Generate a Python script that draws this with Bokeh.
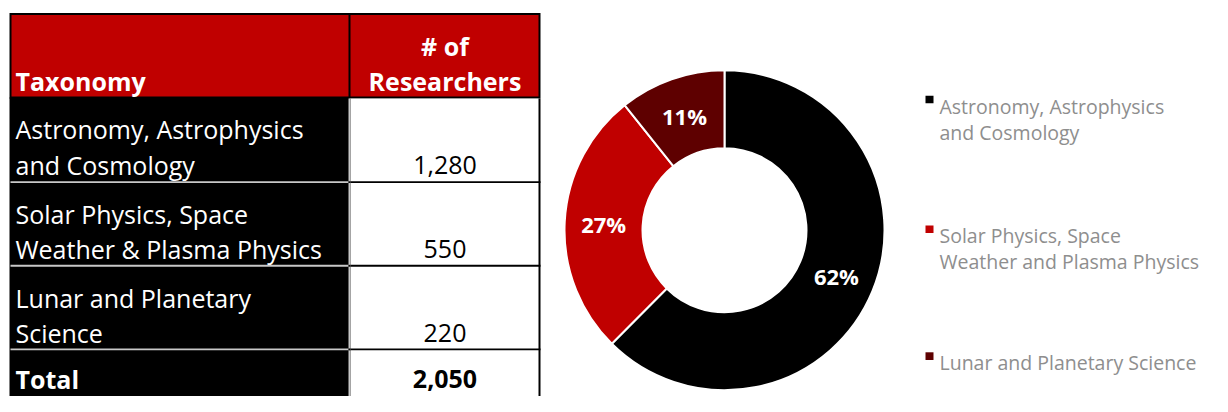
import numpy as np
from bokeh.plotting import figure
from bokeh.models import Range1d
from bokeh.core.properties import value
from bokeh.embed import file_html
from bokeh.resources import INLINE

# ---- data ----
header_left = "Taxonomy"
header_right = ["# of", "Researchers"]
taxonomy_lines = [
    ["Astronomy, Astrophysics", "and Cosmology"],
    ["Solar Physics, Space", "Weather & Plasma Physics"],
    ["Lunar and Planetary", "Science"],
]
researchers = [1280, 550, 220]
total_label = "Total"
legend_lines = [
    ["Astronomy, Astrophysics", "and Cosmology"],
    ["Solar Physics, Space", "Weather and Plasma Physics"],
    ["Lunar and Planetary Science"],
]
colors = ["#000000", "#C00000", "#5E0000"]

FONT = "Open Sans"
W, H = 1212, 396
REF_H = 412
ky = H / REF_H  # screen px per data unit vertically

p = figure(width=W, height=H, x_range=Range1d(0, W), y_range=Range1d(0, REF_H),
           output_backend="svg", toolbar_location=None, min_border=0)
p.axis.visible = False
p.grid.visible = False
p.outline_line_color = None
p.background_fill_color = "white"
p.border_fill_color = "white"


def Y(sy):
    return REF_H - sy


def box(l, r, t, b, color):
    p.quad(left=[l], right=[r], top=[Y(t)], bottom=[Y(b)], fill_color=color, line_color=None)


# ---- table ----
L, MID, R = 9, 349, 540
TOP, HB = 13, 101
row_tops = [101, 189, 276, 363]
BOTTOM = 412

# header
box(L, R, TOP, HB + 1, "#000000")
box(L + 2, MID - 1, TOP + 2, HB - 1, "#C00000")
box(MID + 1, R - 2, TOP + 2, HB - 1, "#C00000")
# body left (black)
box(L, MID, HB, BOTTOM, "#000000")
# body right: white with black borders
box(MID, R, HB + 1, BOTTOM, "#000000")
box(MID + 1, R - 2, HB + 1, BOTTOM, "#FFFFFF")
for rt in row_tops[1:]:
    box(MID, R, rt - 1, rt + 1, "#000000")
    box(L + 1, MID - 1, rt - 1, rt + 1, "#C8C8C8")
box(MID - 1, MID + 1, HB + 1, BOTTOM, "#C8C8C8")
for rt in row_tops[1:]:
    box(MID - 1, MID + 1, rt - 1, rt + 1, "#000000")

tx = 15
vx = (MID + R) / 2
FS = "25px"
p.text(x=[tx], y=[Y(84)], text=[header_left], text_font=value(FONT), text_font_style="bold",
       text_font_size=FS, text_color="white", text_baseline="alphabetic", text_align="left")
p.text(x=[vx, vx], y=[Y(47), Y(84)], text=header_right, text_font=value(FONT), text_font_style="bold",
       text_font_size=FS, text_color="white", text_baseline="alphabetic", text_align="center")

for i, (lines, n) in enumerate(zip(taxonomy_lines, researchers)):
    top = row_tops[i]
    b1, b2 = top + 33, top + 70
    p.text(x=[tx, tx], y=[Y(b1), Y(b2)], text=lines, text_font=value(FONT), text_font_size=FS,
           text_color="white", text_baseline="alphabetic", text_align="left")
    p.text(x=[vx], y=[Y(b2)], text=[f"{n:,}"], text_font=value(FONT), text_font_size=FS,
           text_color="black", text_baseline="alphabetic", text_align="center")

total = sum(researchers)
p.text(x=[tx], y=[Y(394)], text=[total_label], text_font=value(FONT), text_font_style="bold",
       text_font_size=FS, text_color="white", text_baseline="alphabetic", text_align="left")
p.text(x=[vx], y=[Y(394)], text=[f"{total:,}"], text_font=value(FONT), text_font_style="bold",
       text_font_size=FS, text_color="black", text_baseline="alphabetic", text_align="center")

# ---- donut ----
cx, cy = 724, Y(239)
r_in, r_out = 82, 160
vals = np.array(researchers, dtype=float)
frac = vals / vals.sum()
cum_after = np.cumsum(frac)
cum_before = cum_after - frac
starts = np.pi / 2 - 2 * np.pi * cum_after
ends = np.pi / 2 - 2 * np.pi * cum_before
p.annular_wedge(x=cx, y=cy, inner_radius=r_in, outer_radius=r_out,
                inner_radius_units="screen", outer_radius_units="screen",
                start_angle=starts, end_angle=ends, fill_color=colors,
                line_color="white", line_width=2)
mid = (starts + ends) / 2
r_lab = 121
lx = cx + r_lab * np.cos(mid)
ly = cy + r_lab * np.sin(mid) / ky
pct = [f"{int(round(f * 100))}%" for f in frac]
p.text(x=lx, y=ly, text=pct, text_font=value(FONT), text_font_style="bold",
       text_font_size="22px", text_color="white", text_baseline="middle", text_align="center")

# ---- legend ----
leg_x, leg_tx = 925, 939
leg_first = [110, 245, 377]
for i, lines in enumerate(legend_lines):
    b = leg_first[i]
    p.quad(left=[leg_x], right=[leg_x + 8], top=[Y(b - 11)], bottom=[Y(b - 3)],
           fill_color=colors[i], line_color=None)
    ys = [Y(b + 27 * k) for k in range(len(lines))]
    p.text(x=[leg_tx] * len(lines), y=ys, text=lines, text_font=value(FONT), text_font_size="19.5px",
           text_color="#8E8E8E", text_baseline="alphabetic", text_align="left")

open("out.html", "w").write(file_html(p, INLINE))
